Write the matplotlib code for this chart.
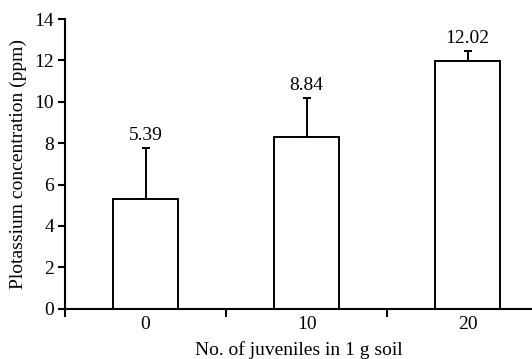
import numpy as np
import matplotlib.pyplot as plt

plt.rcParams['font.family'] = ['Liberation Serif', 'DejaVu Serif']

categorias = ['0', '10', '20']
valores = [5.30, 8.31, 11.97]   # altura das barras
erros = [2.48, 1.88, 0.48]      # erro so para cima
rotulos = ['5.39', '8.84', '12.02']

x = np.arange(len(categorias))

fig = plt.figure(figsize=(5.32, 3.59), dpi=100)
ax = fig.add_axes([0.1222, 0.140, 0.8778, 0.807])

ax.bar(x, valores, width=0.4, color='white', edgecolor='black', linewidth=1.4, zorder=2)
ax.errorbar(x, valores, yerr=[np.zeros(len(erros)), erros], fmt='none',
            ecolor='black', elinewidth=1.4, capsize=2.9, capthick=1.4, zorder=1)

for xi, v, e, r in zip(x, valores, erros, rotulos):
    ax.annotate(r, (xi, v + e), xytext=(0, 3), textcoords='offset points',
                ha='center', va='bottom', fontsize=14)

ax.set_xlim(-0.5, 2.4)
ax.set_ylim(0, 14)
ax.set_yticks(np.arange(0, 15, 2))
ax.set_xticks(x)
ax.set_xticklabels(categorias)
ax.set_xticks([-0.5, 0.5, 1.5], minor=True)
ax.tick_params(axis='x', which='major', length=0, labelsize=14, pad=5)
ax.tick_params(axis='x', which='minor', length=5.5, width=1.5, direction='out')
ax.tick_params(axis='y', length=5, width=1.5, labelsize=14, pad=3)

for s in ['top', 'right']:
    ax.spines[s].set_visible(False)
for s in ['left', 'bottom']:
    ax.spines[s].set_linewidth(1.5)
ax.spines['bottom'].set_bounds(-0.5, 2.4)

ax.set_ylabel('Plotassium concentration (ppm)', fontsize=14, labelpad=5)
ax.set_xlabel('No. of juveniles in 1 g soil', fontsize=14, labelpad=6)

plt.savefig('out.png', dpi=100)
